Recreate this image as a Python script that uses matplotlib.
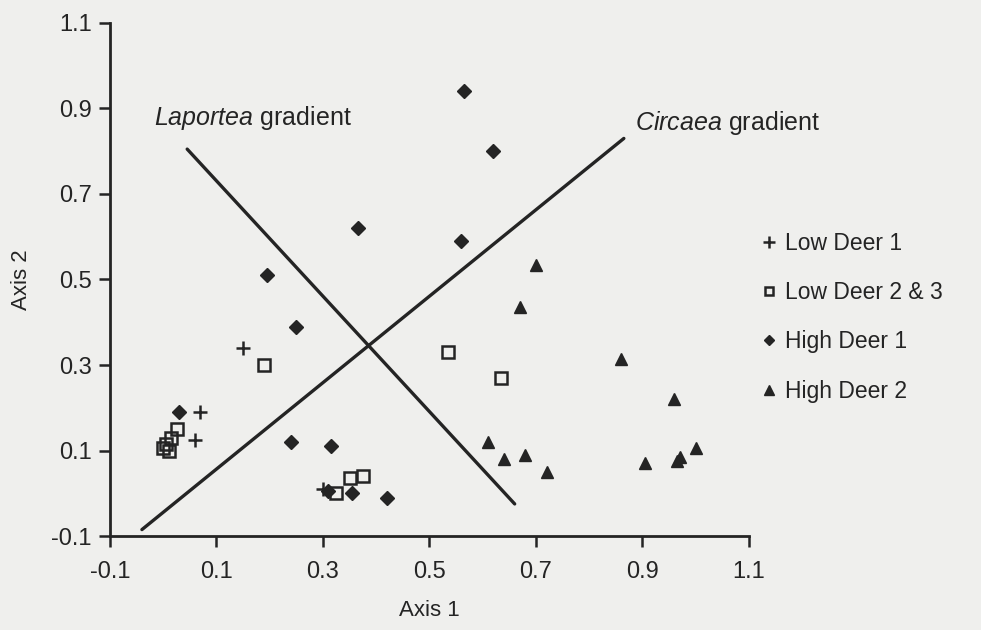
import numpy as np
import matplotlib
matplotlib.use("Agg")
from matplotlib import pyplot as plt

# Ordination scores (Axis 1, Axis 2) per treatment group
low1_x = [0.15, 0.07, 0.06, 0.30]
low1_y = [0.34, 0.19, 0.125, 0.01]

low23_x = [0.19, 0.535, 0.635, 0.325, 0.35, 0.375, 0.025, 0.015, 0.005, 0.0, 0.01]
low23_y = [0.30, 0.33, 0.27, 0.0, 0.035, 0.04, 0.15, 0.13, 0.115, 0.105, 0.10]

high1_x = [0.565, 0.62, 0.365, 0.56, 0.195, 0.25, 0.03, 0.24, 0.315, 0.31, 0.355, 0.42]
high1_y = [0.94, 0.80, 0.62, 0.59, 0.51, 0.39, 0.19, 0.12, 0.11, 0.005, 0.0, -0.012]

high2_x = [0.70, 0.67, 0.86, 0.96, 0.61, 0.64, 0.68, 0.72, 0.905, 0.965, 0.97, 1.0]
high2_y = [0.535, 0.435, 0.315, 0.22, 0.12, 0.08, 0.09, 0.05, 0.07, 0.075, 0.085, 0.105]

# Gradient lines (end points)
laportea_x = [0.045, 0.66]
laportea_y = [0.805, -0.025]
circaea_x = [-0.04, 0.865]
circaea_y = [-0.085, 0.83]

ticks = [-0.1, 0.1, 0.3, 0.5, 0.7, 0.9, 1.1]
tick_labels = ["-0.1", "0.1", "0.3", "0.5", "0.7", "0.9", "1.1"]

ink = "#242424"
paper = "#efefed"

plt.rcParams['font.family'] = ['Liberation Sans', 'DejaVu Sans']
plt.rcParams['mathtext.fontset'] = 'custom'
plt.rcParams['mathtext.rm'] = 'Liberation Sans'
plt.rcParams['mathtext.it'] = 'Liberation Sans:italic'

fig = plt.figure(figsize=(9.81, 6.30), dpi=100, facecolor=paper)
ax = fig.add_axes([0.1121, 0.1492, 0.6514, 0.8143])
ax.set_facecolor(paper)

ax.plot(laportea_x, laportea_y, color=ink, lw=2.4, solid_capstyle="round")
ax.plot(circaea_x, circaea_y, color=ink, lw=2.4, solid_capstyle="round")

ax.plot(low1_x, low1_y, ls="none", marker="+", ms=10, mew=1.8, color=ink,
        label="Low Deer 1")
ax.plot(low23_x, low23_y, ls="none", marker="s", ms=8, mew=1.8, mfc="none",
        mec=ink, label="Low Deer 2 & 3")
ax.plot(high1_x, high1_y, ls="none", marker="D", ms=7, color=ink,
        label="High Deer 1")
ax.plot(high2_x, high2_y, ls="none", marker="^", ms=9, color=ink,
        label="High Deer 2")

ax.text(-0.017, 0.877, r"$\it{Laportea}$ gradient", fontsize=18, color=ink,
        va="center", ha="left")
ax.text(0.886, 0.867, r"$\it{Circaea}$ gradient", fontsize=18, color=ink,
        va="center", ha="left")

ax.set_xlim(-0.1, 1.1)
ax.set_ylim(-0.1, 1.1)
ax.set_xticks(ticks)
ax.set_xticklabels(tick_labels)
ax.set_yticks(ticks)
ax.set_yticklabels(tick_labels)
ax.tick_params(direction="out", length=8, width=1.8, color=ink,
               labelsize=17, labelcolor=ink)
ax.tick_params(axis="x", pad=10)
ax.tick_params(axis="y", pad=5)
for side in ["top", "right"]:
    ax.spines[side].set_visible(False)
for side in ["left", "bottom"]:
    ax.spines[side].set_linewidth(2)
    ax.spines[side].set_color(ink)

ax.set_xlabel("Axis 1", fontsize=16, color=ink, labelpad=12)
ax.set_ylabel("Axis 2", fontsize=16, color=ink, labelpad=14)

leg = ax.legend(loc="upper left", bbox_to_anchor=(0.757, 0.665),
                bbox_transform=fig.transFigure, frameon=False, fontsize=16.5,
                handlelength=0.5, handletextpad=0.45, labelspacing=1.15,
                labelcolor=ink, markerscale=0.8)

fig.savefig("out.png", dpi=100, facecolor=paper)
